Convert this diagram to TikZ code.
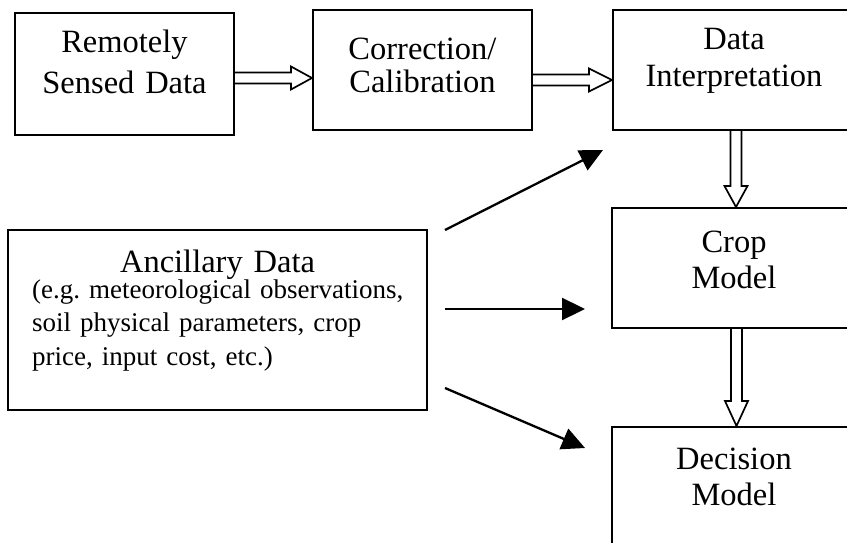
\documentclass[tikz,border=0pt]{standalone}
\usepackage{fontspec}
\setmainfont{Liberation Serif}
\usetikzlibrary{arrows.meta,calc}
\frenchspacing
\newcommand\arrSh{5.5pt}
\newcommand\arrHh{11.5pt}
% horizontal block arrow: #1 start, #2 end (same y), #3 head length
\newcommand\hollowH[3]{%
  \draw[hollow] let \p1=(#1), \p2=(#2) in
    (\x1,\y1+\arrSh) -- (\x2-#3,\y1+\arrSh) -- (\x2-#3,\y1+\arrHh) -- (\x2,\y1)
    -- (\x2-#3,\y1-\arrHh) -- (\x2-#3,\y1-\arrSh) -- (\x1,\y1-\arrSh);}
% vertical (downward) block arrow
\newcommand\hollowV[3]{%
  \draw[hollow] let \p1=(#1), \p2=(#2) in
    (\x1+\arrSh,\y1) -- (\x1+\arrSh,\y2+#3) -- (\x1+\arrHh,\y2+#3) -- (\x1,\y2)
    -- (\x1-\arrHh,\y2+#3) -- (\x1-\arrSh,\y2+#3) -- (\x1-\arrSh,\y1);}
\begin{document}
\begin{tikzpicture}[x=1pt,y=-1pt,
  box/.style={draw, line width=2pt, inner sep=0pt, rectangle},
  big/.style={font=\fontsize{32.5}{#1}\selectfont, text width=300pt, align=center, inner sep=0pt, anchor=base},
  hollow/.style={draw, line width=1.7pt, line join=miter},
  solidarrow/.style={line width=2.3pt, -{Triangle[length=23pt,width=22pt]}}]
\path[use as bounding box, fill=white] (0,0) rectangle (847,543);
\clip (0,0) rectangle (847,543);

% boxes
\node[box, minimum width=219pt, minimum height=122pt] (R) at (124.5,74) {};
\node[box, minimum width=219pt, minimum height=120pt] (C) at (422.5,70) {};
\node[box, minimum width=242pt, minimum height=120pt] (D) at (734,70) {};
\node[box, minimum width=244pt, minimum height=120pt] (M) at (734,268) {};
\node[box, minimum width=244pt, minimum height=140pt] (E) at (734,497) {};
\node[box, minimum width=419pt, minimum height=180pt] (A) at (217.5,320) {};

% texts
\node[big=41] (tR) at (124.5,53) {Remotely\\Sensed Data};
\node[big=33] (tC) at (422.5,60) {Correction/\\Calibration};
\node[big=37] (tD) at (734,50) {Data\\Interpretation};
\node[big=36] (tM) at (734,252) {Crop\\Model};
\node[big=36] (tE) at (734,469) {Decision\\Model};
\node[big=36] (tA) at (217.5,272) {Ancillary Data};
\node[font=\fontsize{27}{33.5}\selectfont, text width=400pt, align=left, inner sep=0pt, anchor=base west] (tB) at (32,298)
  {(e.g. meteorological observations,\\soil physical parameters, crop\\price, input cost, etc.)};

% block arrows
\coordinate (h1) at (0,78);
\coordinate (h2) at (0,80);
\coordinate (v1) at (736,0);
\coordinate (v2) at (736.5,0);
\hollowH{R.east |- h1}{C.west |- h1}{21pt}
\hollowH{C.east |- h2}{D.west |- h2}{23pt}
\hollowV{D.south -| v1}{M.north -| v1}{21pt}
\hollowV{M.south -| v2}{E.north -| v2}{25pt}

% solid arrows
\coordinate (f1s) at (445,230); \coordinate (f1e) at (603,150);
\coordinate (f2s) at (445,309); \coordinate (f2e) at (585,309);
\coordinate (f3s) at (445,388); \coordinate (f3e) at (585,448);
\draw[solidarrow] (f1s) -- (f1e);
\draw[solidarrow] (f2s) -- (f2e);
\draw[solidarrow] (f3s) -- (f3e);
\end{tikzpicture}
\end{document}
